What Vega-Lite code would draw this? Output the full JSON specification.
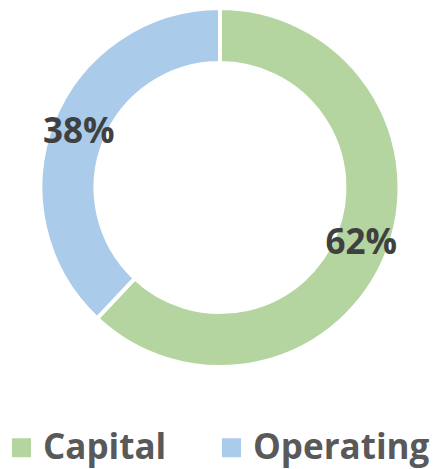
{
  "$schema": "https://vega.github.io/schema/vega-lite/v6.json",
  "width": 440,
  "height": 365,
  "padding": {"left": 0, "top": 0, "right": 0, "bottom": 12},
  "autosize": {"type": "pad"},
  "background": "white",
  "view": {"stroke": null},
  "data": {"values": [
    {"category": "Capital", "share": 0.62},
    {"category": "Operating", "share": 0.38}
  ]},
  "encoding": {
    "theta": {"field": "share", "type": "quantitative", "stack": true},
    "order": {"field": "category", "type": "nominal", "sort": "ascending"}
  },
  "layer": [
    {
      "mark": {"type": "arc", "outerRadius": 179.5, "innerRadius": 124.5, "stroke": "white", "strokeWidth": 4},
      "encoding": {
        "color": {
          "field": "category", "type": "nominal",
          "scale": {"domain": ["Capital", "Operating"], "range": ["#b4d59f", "#aacbea"]},
          "legend": {
            "title": null, "orient": "none", "direction": "horizontal",
            "legendX": 4, "legendY": 425, "padding": 0,
            "symbolType": "square", "symbolSize": 361, "symbolStrokeWidth": 0,
            "labelFont": "Open Sans", "labelFontWeight": "bold", "labelFontSize": 35,
            "labelColor": "#595959", "labelOffset": 4, "columnPadding": 47,
            "labelLimit": 400
          }
        }
      }
    },
    {
      "mark": {"type": "text", "radius": 152, "font": "Open Sans", "fontWeight": "bold", "fontSize": 35, "fill": "#404040", "baseline": "middle", "align": "center"},
      "encoding": {
        "text": {"field": "share", "type": "quantitative", "format": ".0%"}
      }
    }
  ]
}
